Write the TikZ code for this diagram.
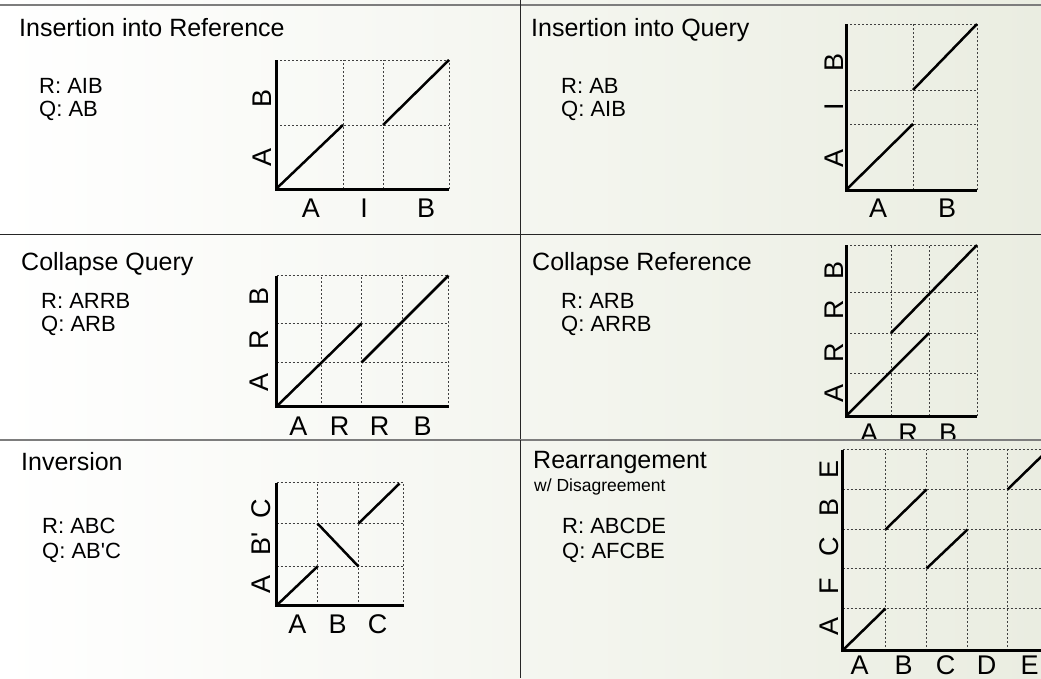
\documentclass[tikz,border=0pt]{standalone}
\usepackage{fontspec}
\setmainfont{Liberation Sans}
\usetikzlibrary{calc}
\definecolor{bgright}{RGB}{234,237,225}
\definecolor{rulegray}{RGB}{125,125,125}

\begin{document}
\begin{tikzpicture}[x=1pt, y=-1pt,
  title/.style={anchor=base west, inner sep=0pt, font=\fontsize{25}{29}\selectfont},
  subtitle/.style={anchor=base west, inner sep=0pt, font=\fontsize{17.5}{20}\selectfont},
  seq/.style={anchor=base west, inner sep=0pt, font=\fontsize{22}{25}\selectfont},
  lab/.style={inner sep=0pt, font=\fontsize{27}{30}\selectfont},
  gridline/.style={line width=0.9pt, black!75, dash pattern=on 2pt off 2pt},
  axis/.style={line width=3pt, line join=miter},
  match/.style={line width=2.5pt}]
\clip (0,0) rectangle (1041,678);
% Background and panel rules
\shade[left color=white, right color=bgright] (0,0) rectangle (1041,678);
\draw[rulegray, line width=2pt] (0,4.5) -- (1041,4.5);
\draw[black!85, line width=1.5pt] (0,234.5) -- (1041,234.5);
\draw[black!85, line width=1.5pt] (520.5,0) -- (520.5,678);

% Insertion into Reference
\node[title] (t1) at (19,36) {Insertion into Reference};
\node[seq] (r1) at (39,93) {R: AIB};
\node[seq] (q1) at (39,116) {Q: AB};
\begin{scope}[shift={(276,189)}, yscale=-1]
  \foreach \x in {67,107,173} \draw[gridline] (\x,0) -- (\x,129);
  \foreach \y in {64,129} \draw[gridline] (0,\y) -- (173,\y);
  \draw[axis] (0,129) -- (0,0) -- (173,0);
  \draw[match] (0,0) -- (67,64);
  \draw[match] (107,64) -- (173,129);
  \foreach \lab/\x [count=\i] in {A/35,I/88,B/150}
    \node[lab] (p1x\i) at (\x,-19) {\lab};
  \foreach \lab/\y [count=\i] in {A/32,B/91}
    \node[lab, rotate=90] (p1y\i) at (-14,\y) {\lab};
\end{scope}

% Insertion into Query
\node[title] (t2) at (531,36) {Insertion into Query};
\node[seq] (r2) at (561,93) {R: AB};
\node[seq] (q2) at (561,116) {Q: AIB};
\begin{scope}[shift={(846,190)}, yscale=-1]
  \foreach \x in {67,131} \draw[gridline] (\x,0) -- (\x,166);
  \foreach \y in {66,100,166} \draw[gridline] (0,\y) -- (131,\y);
  \draw[axis] (0,166) -- (0,0) -- (131,0);
  \draw[match] (0,0) -- (67,66);
  \draw[match] (67,100) -- (131,166);
  \foreach \lab/\x [count=\i] in {A/32,B/101}
    \node[lab] (p2x\i) at (\x,-18) {\lab};
  \foreach \lab/\y [count=\i] in {A/32,I/83,B/128}
    \node[lab, rotate=90] (p2y\i) at (-12,\y) {\lab};
\end{scope}

% Collapse Query
\node[title] (t3) at (21,270) {Collapse Query};
\node[seq] (r3) at (41,308) {R: ARRB};
\node[seq] (q3) at (41,331) {Q: ARB};
\begin{scope}[shift={(276.5,406.5)}, yscale=-1]
  \foreach \x in {45,85,126,172} \draw[gridline] (\x,0) -- (\x,131);
  \foreach \y in {44,83,131} \draw[gridline] (0,\y) -- (172,\y);
  \draw[axis] (0,131) -- (0,0) -- (172,0);
  \draw[match] (0,0) -- (85,83);
  \draw[match] (85,44) -- (172,131);
  \foreach \lab/\x [count=\i] in {A/22,R/63,R/103,B/146}
    \node[lab] (p3x\i) at (\x,-20) {\lab};
  \foreach \lab/\y [count=\i] in {A/24,R/67,B/110}
    \node[lab, rotate=90] (p3y\i) at (-17,\y) {\lab};
\end{scope}

% Collapse Reference
\node[title] (t4) at (532,270) {Collapse Reference};
\node[seq] (r4) at (561,308) {R: ARB};
\node[seq] (q4) at (561,331) {Q: ARRB};
\begin{scope}[shift={(846,416)}, yscale=-1]
  \foreach \x in {45,83,131} \draw[gridline] (\x,0) -- (\x,171);
  \foreach \y in {43,83,124,171} \draw[gridline] (0,\y) -- (131,\y);
  \draw[axis] (0,171) -- (0,0) -- (131,0);
  \draw[match] (0,0) -- (83,83);
  \draw[match] (45,83) -- (131,171);
  \foreach \lab/\x [count=\i] in {A/23,R/62,B/102}
    \node[lab] (p4x\i) at (\x,-17) {\lab};
  \foreach \lab/\y [count=\i] in {A/23,R/63,R/106,B/146}
    \node[lab, rotate=90] (p4y\i) at (-11.5,\y) {\lab};
\end{scope}

% Lower row: its own background covers the labels above
\shade[left color=white, right color=bgright] (0,440) rectangle (1041,678);
\draw[rulegray, line width=2pt] (0,440) -- (1041,440);
\draw[black!85, line width=1.5pt] (520.5,440) -- (520.5,678);

% Inversion
\node[title] (t5) at (21,470) {Inversion};
\node[seq] (r5) at (42,533) {R: ABC};
\node[seq] (q5) at (42,558) {Q: AB\textquotesingle C};
\begin{scope}[shift={(276.5,605.5)}, yscale=-1]
  \foreach \x in {41,82,127} \draw[gridline] (\x,0) -- (\x,123);
  \foreach \y in {39,82,123} \draw[gridline] (0,\y) -- (127,\y);
  \draw[axis] (0,123) -- (0,0) -- (127,0);
  \draw[match] (0,0) -- (41,39);
  \draw[match] (41,82) -- (82,39);
  \draw[match] (82,82) -- (123,122);
  \foreach \lab/\x [count=\i] in {A/21,B/61,C/101}
    \node[lab] (p5x\i) at (\x,-19) {\lab};
  \foreach \lab/\y [count=\i] in {A/21,{B\textquotesingle}/62,C/97}
    \node[lab, rotate=90] (p5y\i) at (-15,\y) {\lab};
\end{scope}

% Rearrangement
\node[title] (t6) at (533,468) {Rearrangement};
\node[subtitle] (s6) at (534,491) {w/ Disagreement};
\node[seq] (r6) at (562,533) {R: ABCDE};
\node[seq] (q6) at (562,558) {Q: AFCBE};
\begin{scope}[shift={(842.5,650.5)}, yscale=-1]
  \foreach \x in {43,84,125,165,206} \draw[gridline] (\x,0) -- (\x,201);
  \foreach \y in {42,82,121,161,201} \draw[gridline] (0,\y) -- (206,\y);
  \draw[axis] (0,201) -- (0,0) -- (206,0);
  \draw[match] (0,0) -- (43,42);
  \draw[match] (43,121) -- (84,161);
  \draw[match] (84,82) -- (125,121);
  \draw[match] (165,161) -- (206,201);
  \foreach \lab/\x [count=\i] in {A/17,B/61,C/103,D/144,E/187}
    \node[lab] (p6x\i) at (\x,-14.5) {\lab};
  \foreach \lab/\y [count=\i] in {A/24,F/64,C/104,B/143,E/181}
    \node[lab, rotate=90] (p6y\i) at (-13,\y) {\lab};
\end{scope}
\end{tikzpicture}
\end{document}
